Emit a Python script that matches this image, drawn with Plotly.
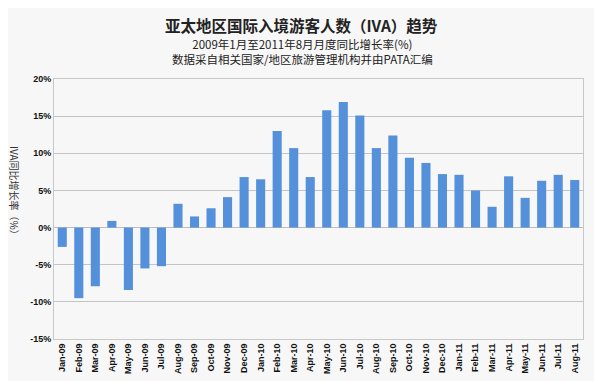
import plotly.graph_objects as go

months = ["Jan-09","Feb-09","Mar-09","Apr-09","May-09","Jun-09","Jul-09","Aug-09","Sep-09","Oct-09","Nov-09","Dec-09",
          "Jan-10","Feb-10","Mar-10","Apr-10","May-10","Jun-10","Jul-10","Aug-10","Sep-10","Oct-10","Nov-10","Dec-10",
          "Jan-11","Feb-11","Mar-11","Apr-11","May-11","Jun-11","Jul-11","Aug-11"]
growth = [-2.6, -9.5, -7.9, 0.9, -8.4, -5.5, -5.2, 3.2, 1.5, 2.6, 4.1, 6.8,
          6.5, 13.0, 10.7, 6.8, 15.8, 16.9, 15.1, 10.7, 12.4, 9.4, 8.7, 7.2,
          7.1, 5.0, 2.8, 6.9, 4.0, 6.3, 7.1, 6.4]
yticks = [-15, -10, -5, 0, 5, 10, 15, 20]
ytick_labels = [f"{v}%" for v in yticks]

latin = "Liberation Sans, Arial, Noto Sans CJK SC, sans-serif"
cjk = "Noto Sans CJK SC, Liberation Sans, sans-serif"

W, H = 602, 381
OFF = 8  # page body margin offset
l, r, t, b = 54 - OFF, 19 + OFF, 79 - OFF, 42 + OFF
pw, ph = W - l - r, H - t - b

def px_x(x):
    return (x - OFF - l) / pw

def px_y(y):
    return (H - b - (y - OFF)) / ph

fig = go.Figure(go.Bar(x=months, y=growth, marker=dict(color="#5590db", line=dict(width=0)), width=0.55))

fig.update_layout(
    width=W, height=H,
    margin=dict(l=l, r=r, t=t, b=b),
    paper_bgcolor="#f7f7f7", plot_bgcolor="#f7f7f7",
    showlegend=False,
    font=dict(family=latin, color="#222"),
    xaxis=dict(tickangle=-90, tickfont=dict(size=9, family=latin, color="#111", weight="bold"),
               showgrid=False, showline=True, linecolor="#c8c8c8", mirror=True,
               ticks="", automargin=False),
    yaxis=dict(range=[-15, 20], tickvals=yticks, ticktext=ytick_labels,
               tickfont=dict(size=9, family=latin, color="#111", weight="bold"),
               showgrid=True, gridcolor="#c4c4c4", gridwidth=1,
               zeroline=True, zerolinecolor="#bdbdbd", zerolinewidth=1,
               showline=True, linecolor="#c8c8c8", mirror=True, ticks="",
               automargin=False),
    annotations=[
        dict(text="<b>亚太地区国际入境游客人数（IVA）趋势</b>", x=px_x(301), y=px_y(25),
             xref="paper", yref="paper", xanchor="center", yanchor="middle", showarrow=False,
             font=dict(size=15.5, family=cjk, color="#222")),
        dict(text="2009年1月至2011年8月月度同比增长率(%)<br>数据采自相关国家/地区旅游管理机构并由PATA汇编",
             x=px_x(302), y=px_y(51.5), xref="paper", yref="paper",
             xanchor="center", yanchor="middle", showarrow=False,
             font=dict(size=11.5, family=cjk, color="#222")),
        dict(text="IVA同比增长率（%）", x=px_x(15), y=px_y(193), xref="paper", yref="paper",
             xanchor="center", yanchor="middle", showarrow=False, textangle=90,
             font=dict(size=10, family=cjk, color="#333")),
    ],
)

fig.write_html("out.html")
